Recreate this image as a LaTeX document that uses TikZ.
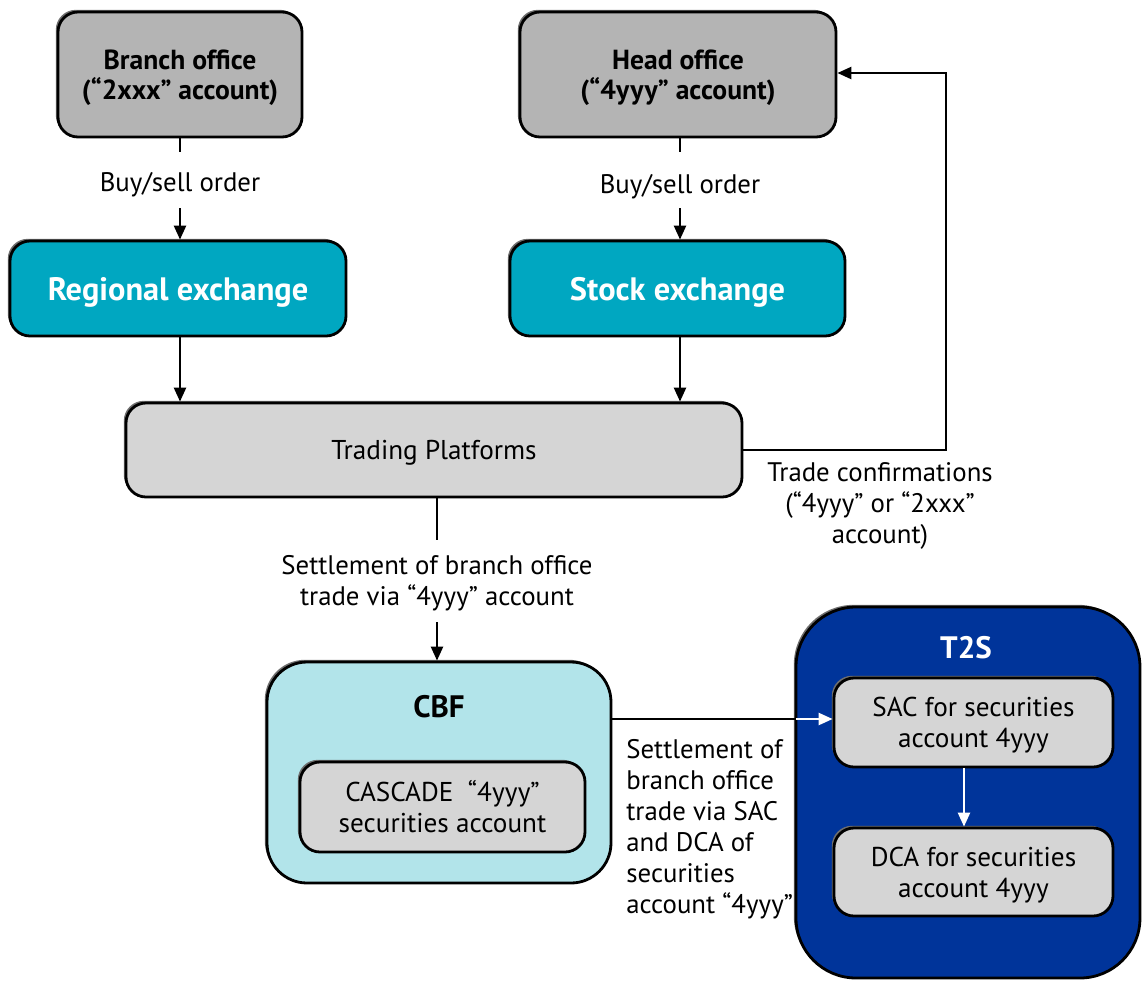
\documentclass[tikz,border=0pt]{standalone}
\usepackage{fontspec}
\setmainfont{PT Sans}
\usetikzlibrary{arrows.meta,shadows,calc}
\definecolor{boxgray}{HTML}{B4B4B4}
\definecolor{lightgray}{HTML}{D5D5D5}
\definecolor{teal}{HTML}{00A7C1}
\definecolor{lightcyan}{HTML}{B2E4EA}
\definecolor{darkblue}{HTML}{00349A}
\definecolor{shadowgray}{HTML}{6E6E6E}
\begin{document}
\begin{tikzpicture}[x=0.5pt,y=-0.5pt,
  box/.style={draw=black,line width=1.4pt,rounded corners=10pt,
    general shadow={fill=shadowgray,shadow xshift=-1.1pt,shadow yshift=1.1pt},
    inner sep=0pt,align=center},
  office/.style={box,fill=boxgray,text depth=-1pt,font=\fontsize{13.8}{15}\selectfont\bfseries},
  exch/.style={box,fill=teal,text=white,text depth=0pt,font=\fontsize{16.2}{19}\selectfont\bfseries},
  plain/.style={box,fill=lightgray,font=\fontsize{13.6}{15.5}\selectfont},
  lower/.style={text depth=-1pt},
  lbl/.style={inner sep=0pt,align=center,font=\fontsize{13.4}{15.5}\selectfont},
  title/.style={inner sep=0pt,font=\fontsize{15.5}{17}\selectfont\bfseries},
  conn/.style={line width=1.2pt},
  arr/.style={line width=1.2pt,-{Triangle[width=6pt,length=7pt]}},
  warr/.style={white,line width=1.2pt,-{Triangle[width=6pt,length=7pt]}}]
\useasboundingbox (0,0) rectangle (1142,981);

% containers
\node[box,fill=lightcyan,rounded corners=20pt,minimum width=172pt,minimum height=110.5pt] (cbf) at (439,772.5) {};
\node[title] (cbft) at (439,707) {CBF};
\node[box,fill=darkblue,rounded corners=30pt,minimum width=172pt,minimum height=185.5pt] (t2s) at (968,792.5) {};
\node[title,text=white] (t2st) at (966,648) {T2S};

% boxes
\node[office,minimum width=122pt,minimum height=62.5pt] (branch) at (180,74.5) {Branch office\\(“2xxx” account)};
\node[office,minimum width=158pt,minimum height=62.5pt] (head) at (678,74.5) {Head office\\(“4yyy” account)};
\node[exch,minimum width=168pt,minimum height=47.5pt] (regional) at (178,288.5) {Regional exchange};
\node[exch,minimum width=167.5pt,minimum height=47.5pt] (stock) at (677.5,288.5) {Stock exchange};
\node[plain,lower,minimum width=308pt,minimum height=47pt] (trading) at (434,450) {Trading Platforms};
\node[plain,minimum width=142.5pt,minimum height=45pt] (cascade) at (442.5,807) {CASCADE~~“4yyy”\\securities account};
\node[plain,lower,minimum width=139.5pt,minimum height=44.5pt] (sac) at (973.5,722.5) {SAC for securities\\account 4yyy};
\node[plain,lower,minimum width=139.5pt,minimum height=44pt] (dca) at (973.5,872) {DCA for securities\\account 4yyy};

% labels
\node[lbl] (bso1) at (180,185) {Buy/sell order};
\node[lbl] (bso2) at (680,187) {Buy/sell order};
\node[lbl] (tc) at (880,506) {Trade confirmations\\(“4yyy” or “2xxx”\\account)};
\node[lbl] (sl) at (437,583) {Settlement of branch office\\trade via “4yyy” account};
\node[lbl,align=left,anchor=north west] (sl2) at (626,739) {Settlement of\\branch office\\trade via SAC\\and DCA of\\securities\\account “4yyy”};

% connectors
\coordinate (a1) at (180,152);
\coordinate (a2) at (180,208);
\draw[conn] (branch.south -| a1) -- (a1);
\draw[arr] (a2) -- (regional.north -| a2);
\coordinate (b1) at (680,152);
\coordinate (b2) at (680,208);
\draw[conn] (head.south -| b1) -- (b1);
\draw[arr] (b2) -- (stock.north -| b2);
\draw[arr] (regional.south -| a1) -- (trading.north -| a1);
\draw[arr] (stock.south -| b1) -- (trading.north -| b1);
\coordinate (tcc) at (946,73);
\draw[arr] (trading.east) -| (tcc) -- (head.east |- tcc);
\coordinate (s1) at (437,540);
\coordinate (s2) at (437,622);
\draw[conn] (trading.south -| s1) -- (s1);
\draw[arr] (s2) -- (cbf.north -| s2);
\coordinate (m) at (796,719);
\draw[conn] (cbf.east |- m) -- (m);
\draw[warr] (m) -- (sac.west |- m);
\coordinate (d1) at (964,767);
\draw[warr] (sac.south -| d1) -- (dca.north -| d1);
\end{tikzpicture}
\end{document}
